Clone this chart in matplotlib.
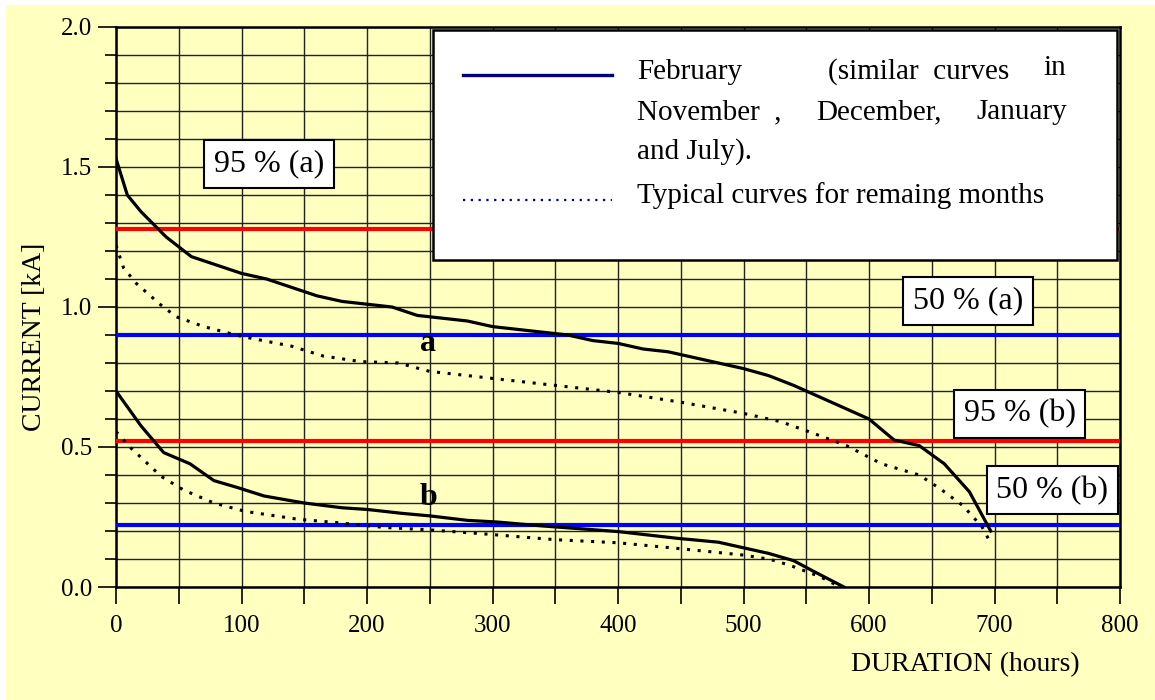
import numpy as np
import matplotlib
matplotlib.use("Agg")
import matplotlib.pyplot as plt
from matplotlib.patches import Rectangle
from matplotlib.lines import Line2D

plt.rcParams['font.family'] = ['Liberation Serif', 'DejaVu Serif']

# Duration curves, hours vs current [kA]
feb_a_h = [0, 9, 20, 40, 60, 100, 120, 140, 160, 180, 220, 240, 280, 300, 340, 360,
           380, 400, 420, 440, 460, 480, 500, 520, 540, 560, 600, 620, 640, 660, 680, 697]
feb_a_i = [1.53, 1.40, 1.34, 1.25, 1.18, 1.12, 1.10, 1.07, 1.04, 1.02, 1.00, 0.97, 0.95, 0.93, 0.91, 0.90,
           0.88, 0.87, 0.85, 0.84, 0.82, 0.80, 0.78, 0.755, 0.72, 0.68, 0.60, 0.525, 0.505, 0.44, 0.34, 0.20]

typ_a_h = [0, 6, 16, 35, 48, 70, 100, 140, 165, 195, 225, 250, 290, 350, 400, 450,
           500, 530, 555, 582, 610, 640, 657, 675, 690, 696]
typ_a_i = [1.22, 1.14, 1.085, 1.01, 0.965, 0.93, 0.895, 0.86, 0.825, 0.805, 0.80, 0.77, 0.75, 0.72, 0.695, 0.66,
           0.62, 0.59, 0.55, 0.505, 0.44, 0.40, 0.35, 0.29, 0.215, 0.165]

feb_b_h = [0, 20, 38, 59, 78, 97, 118, 150, 180, 200, 228, 250, 280, 304, 340,
           400, 447, 480, 520, 540, 555, 580]
feb_b_i = [0.70, 0.575, 0.48, 0.44, 0.38, 0.355, 0.325, 0.30, 0.283, 0.277, 0.263, 0.254, 0.238, 0.232, 0.218,
           0.198, 0.174, 0.16, 0.12, 0.094, 0.058, 0.0]

typ_b_h = [0, 11, 36, 54, 78, 103, 145, 176, 213, 250, 295, 350, 400, 447, 500, 521, 536, 561, 577]
typ_b_i = [0.555, 0.50, 0.395, 0.346, 0.30, 0.27, 0.242, 0.23, 0.213, 0.204, 0.189, 0.169, 0.158, 0.138,
           0.114, 0.099, 0.079, 0.037, 0.0]

# Percentile levels
level_vals = [1.28, 0.90, 0.52, 0.22]
level_cols = ['#FF0000', '#0000FF', '#FF0000', '#0000FF']
box_texts = ['95 % (a)', '50 % (a)', '95 % (b)', '50 % (b)']
box_pos = [(122, 1.512), (679, 1.021), (720, 0.618), (746, 0.346)]

W, H = 1155, 700
fig = plt.figure(figsize=(W / 100, H / 100), dpi=100)
fig.patch.set_facecolor('white')
fig.patches.append(Rectangle((6 / W, 0), 1, 1 - 5 / H, transform=fig.transFigure,
                             facecolor='#FFFFC0', edgecolor='none', zorder=-10))

ax = fig.add_axes([116 / W, 1 - 587 / H, (1120 - 116) / W, (587 - 27) / H])
ax.set_facecolor('#FFFFC0')
ax.set_xlim(0, 800)
ax.set_ylim(0, 2.0)
ax.set_xticks(np.arange(0, 801, 100))
ax.set_xticks(np.arange(50, 800, 100), minor=True)
ax.set_yticks(np.arange(0, 2.01, 0.5))
ax.set_yticks(np.arange(0, 2.01, 0.1), minor=True)
ax.yaxis.set_major_formatter(matplotlib.ticker.FormatStrFormatter('%.1f'))
ax.grid(True, which='both', color='#222222', lw=1.0)
ax.set_axisbelow(True)
ax.tick_params(axis='both', which='both', direction='out', labelsize=18, width=1.2)
ax.tick_params(axis='y', which='major', length=13, pad=4)
ax.tick_params(axis='y', which='minor', length=8)
ax.tick_params(axis='x', which='both', length=12, pad=8)
for s in ax.spines.values():
    s.set_linewidth(1.8)

for v, c in zip(level_vals, level_cols):
    ax.axhline(v, color=c, lw=3, zorder=3)

ax.plot(feb_a_h, feb_a_i, color='black', lw=2.3, zorder=4)
ax.plot(feb_b_h, feb_b_i, color='black', lw=2.3, zorder=4)
ax.plot(typ_a_h, typ_a_i, color='black', lw=2.2, ls=(0, (1, 2.5)), zorder=4)
ax.plot(typ_b_h, typ_b_i, color='black', lw=2.2, ls=(0, (1, 2.5)), zorder=4)

for t, (x, y) in zip(box_texts, box_pos):
    ax.text(x, y, t, fontsize=23, ha='center', va='center', zorder=6,
            bbox=dict(boxstyle='square,pad=0.3', fc='white', ec='black', lw=1.5))

ax.text(249, 0.871, 'a', fontsize=23, fontweight='bold', ha='center', va='center', zorder=5)
ax.text(249, 0.32, 'b', fontsize=23, fontweight='bold', ha='center', va='center', zorder=5)

fig.text(1080 / W, 1 - 665 / H, 'DURATION (hours)', fontsize=20, ha='right', va='center')
fig.text(35 / W, 1 - 337 / H, 'CURRENT [kA]', fontsize=20, ha='center', va='center', rotation=90)

# legend box
def px(x, y):
    return x / W, 1 - y / H

fig.patches.append(Rectangle(px(433, 260), (1117 - 433) / W, (260 - 30) / H, transform=fig.transFigure,
                             facecolor='white', edgecolor='black', lw=1.8, zorder=10))
x0, y0 = px(463, 75)
x1, _ = px(612, 75)
fig.lines.append(Line2D([x0, x1], [y0, y0], transform=fig.transFigure, color='#000080', lw=2.4, zorder=11))
x0, y0 = px(463, 200)
fig.lines.append(Line2D([x0, x1], [y0, y0], transform=fig.transFigure, color='#000080', lw=1.6,
                        ls=(0, (1, 2.5)), zorder=11))

legend_words = [('February', 637, 72), ('(similar  curves', 828, 72), ('in', 1043, 68),
                ('November  ,', 637, 112), ('December,', 816, 112), ('January', 976, 112),
                ('and July).', 637, 152), ('Typical curves for remaing months', 637, 196)]
for t, x, y in legend_words:
    fx, fy = px(x, y)
    fig.text(fx, fy, t, fontsize=21, ha='left', va='center', zorder=12)

fig.savefig('out.png', dpi=100)
